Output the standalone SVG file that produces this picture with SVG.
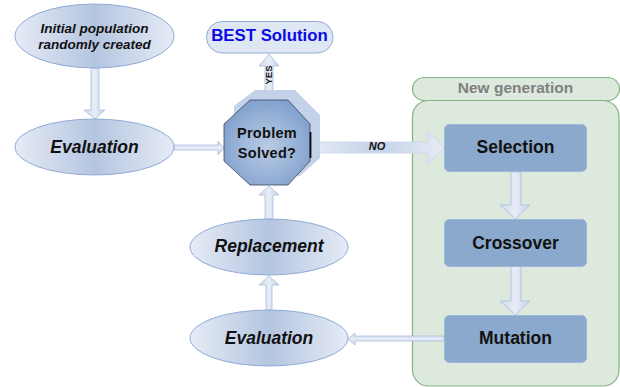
<svg xmlns="http://www.w3.org/2000/svg" width="620" height="387" viewBox="0 0 620 387">
<defs>
<linearGradient id="eg" x1="0" y1="0" x2="1" y2="0"><stop offset="0" stop-color="#e6ebf6"/><stop offset="0.5" stop-color="#b4c5e0"/><stop offset="1" stop-color="#e6ebf6"/></linearGradient>
<linearGradient id="ag" x1="0" y1="0" x2="1" y2="0"><stop offset="0" stop-color="#cdd9ec"/><stop offset="0.5" stop-color="#e8edf7"/><stop offset="1" stop-color="#c3d1e8"/></linearGradient>
<linearGradient id="hg" x1="0" y1="0" x2="1" y2="0"><stop offset="0" stop-color="#e6ebf6"/><stop offset="0.5" stop-color="#c5d2e8"/><stop offset="1" stop-color="#e6ebf6"/></linearGradient>
<linearGradient id="vg" x1="0" y1="0" x2="0" y2="1"><stop offset="0" stop-color="#c6d4e9"/><stop offset="0.5" stop-color="#e6ecf7"/><stop offset="1" stop-color="#c6d4e9"/></linearGradient>
<radialGradient id="og" cx="0.5" cy="0.55" r="0.6"><stop offset="0" stop-color="#b9cbe4"/><stop offset="0.65" stop-color="#94afd5"/><stop offset="1" stop-color="#7c9ccb"/></radialGradient>
<style>
.e{fill:url(#eg);stroke:#8faad6;stroke-width:1}
.a{fill:url(#ag);stroke:#a9bedd;stroke-width:.8}
.ah{fill:url(#vg);stroke:#a9bedd;stroke-width:.8}
.b{fill:#8aa9cc;stroke:#9db7d6;stroke-width:1}
.g{fill:#dde9dc;stroke:#83b384;stroke-width:1.2}
text{font-family:"Liberation Sans",Arial,sans-serif;text-anchor:middle;fill:#111}
.it{font-style:italic;font-weight:bold;font-size:17.500px}
.bt{font-weight:bold;font-size:17.500px}
</style>
</defs>
<g id="new-generation">
<rect class="g" x="412.500" y="77.500" width="207" height="23" rx="11.500"/>
<rect class="g" x="412.500" y="100.500" width="206.500" height="285.500" rx="16"/>
<text x="515.500" y="93" font-size="15.500" font-weight="bold" style="fill:#808080">New generation</text>
</g>
<g id="connectors">
<path class="a" d="M91 68H99V110H105L95 119L84 110H91Z"/>
<path class="a" d="M265 100V66H259L269 54L279 66H273V100Z"/>
<path class="ah" d="M174 145H218V141L224 148L218 155V150H174Z"/>
<path d="M310 142H428V131L444 147.500L428 164V153H310Z" fill="url(#hg)" stroke="#c9d6ea" stroke-width=".8"/>
<path class="a" d="M511 172H521V205H530L515.500 219L500 205H511Z"/>
<path class="a" d="M511 266H521V301H530L515.500 315L500 301H511Z"/>
<path class="ah" d="M444 336V341H355V345L348 339L355 333V336Z"/>
<path class="a" d="M266 310V285H259L269 276L279 285H272V310Z"/>
<path class="a" d="M265 219V195H259L269 186L279 195H273V219Z"/>
</g>
<g id="initial">
<ellipse class="e" cx="94.500" cy="36" rx="79.500" ry="32"/>
<text class="it" x="94.500" y="33" style="font-size:13.500px">Initial population</text>
<text class="it" x="94.500" y="49" style="font-size:13.500px">randomly created</text>
</g>
<g id="evaluation-1">
<ellipse class="e" cx="94.500" cy="147" rx="79.500" ry="28"/>
<text class="it" x="94.500" y="153">Evaluation</text>
</g>
<g id="best">
<rect x="206.500" y="21.500" width="126.500" height="31.500" rx="15.700" fill="#dfe7f4" stroke="#8faad6"/>
<text x="269.500" y="41" font-size="16.800" font-weight="bold" style="fill:#0a0ae6">BEST Solution</text>
</g>
<g id="problem">
<path d="M255 90H295L320 115V158L300 176H250L234 160V106Z" fill="#c3d2e8"/>
<path d="M250 100H288L310 124V161L288 185H250L224 161V124Z" fill="url(#og)" stroke="#3a4658" stroke-width=".8" stroke-linejoin="round"/>
<path d="M310.500 132V158" stroke="#0c0c14" stroke-width="1.800" fill="none"/>
<text x="267" y="138" font-size="14.500" font-weight="bold" letter-spacing=".3">Problem</text>
<text x="267" y="158" font-size="14.500" font-weight="bold" letter-spacing=".3">Solved?</text>
</g>
<text transform="translate(272,75) rotate(-90)" x="0" y="0" font-size="9.500" font-weight="bold">YES</text>
<text x="377" y="150" font-size="11" font-weight="bold" font-style="italic">NO</text>
<g id="selection"><rect class="b" x="444.500" y="124.500" width="142" height="47" rx="5"/><text class="bt" x="515.500" y="153">Selection</text></g>
<g id="crossover"><rect class="b" x="444.500" y="219.500" width="142" height="47" rx="5"/><text class="bt" x="515.500" y="248.500">Crossover</text></g>
<g id="mutation"><rect class="b" x="444.500" y="315.500" width="142" height="47" rx="5"/><text class="bt" x="515.500" y="344">Mutation</text></g>
<g id="replacement">
<ellipse class="e" cx="269" cy="247" rx="79" ry="28"/>
<text class="it" x="269" y="252">Replacement</text>
</g>
<g id="evaluation-2">
<ellipse class="e" cx="269" cy="338" rx="79" ry="28"/>
<text class="it" x="269" y="343.500">Evaluation</text>
</g>
</svg>
